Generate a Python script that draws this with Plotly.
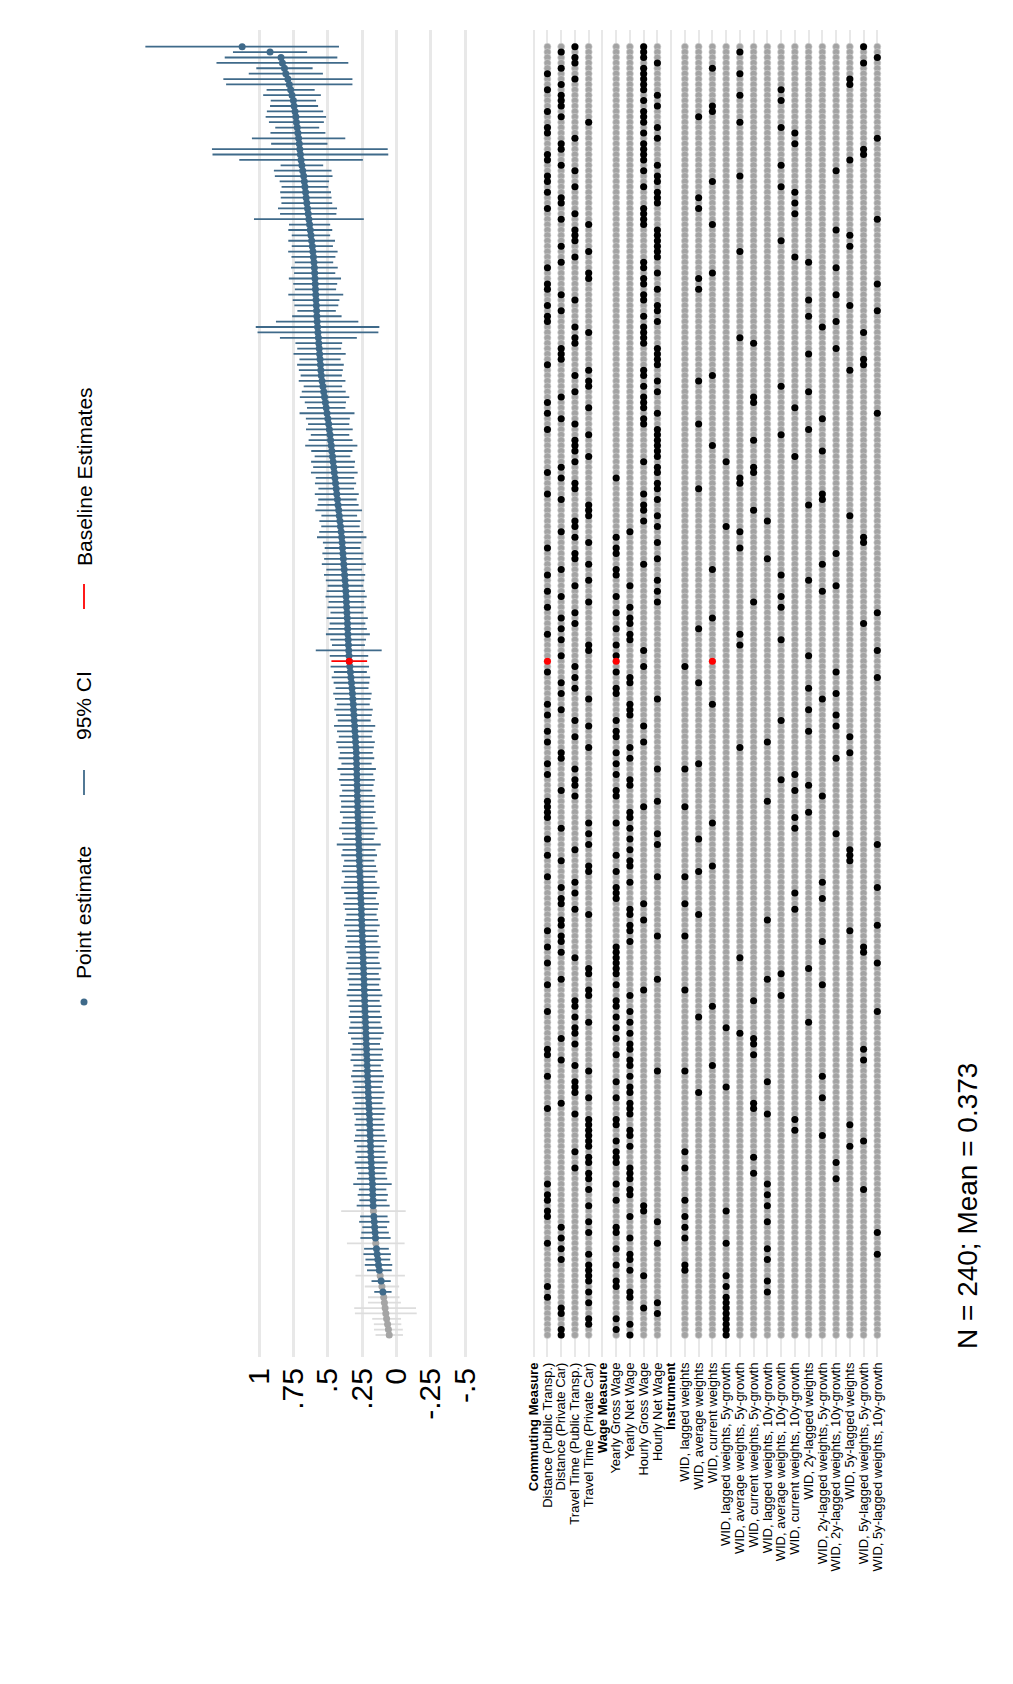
import plotly.graph_objects as go

N = 240
# specifications sorted by estimate, highest first (index 0 = top of chart)
estimates = [
    1.123, 0.920, 0.840, 0.830, 0.815, 0.805, 0.790, 0.780, 0.770, 0.760,
    0.750, 0.745, 0.738, 0.732, 0.728, 0.722, 0.717, 0.712, 0.707, 0.703,
    0.699, 0.694, 0.688, 0.682, 0.675, 0.670, 0.666, 0.661, 0.657, 0.652,
    0.647, 0.642, 0.637, 0.632, 0.627, 0.622, 0.617, 0.612, 0.608, 0.604,
    0.600, 0.597, 0.595, 0.593, 0.591, 0.589, 0.587, 0.585, 0.583, 0.581,
    0.579, 0.577, 0.574, 0.571, 0.568, 0.565, 0.562, 0.559, 0.556, 0.553,
    0.550, 0.547, 0.541, 0.535, 0.529, 0.523, 0.517, 0.511, 0.505, 0.499,
    0.493, 0.488, 0.483, 0.479, 0.474, 0.470, 0.465, 0.461, 0.456, 0.452,
    0.447, 0.443, 0.438, 0.434, 0.429, 0.425, 0.420, 0.416, 0.411, 0.407,
    0.402, 0.398, 0.395, 0.392, 0.389, 0.386, 0.383, 0.380, 0.377, 0.374,
    0.371, 0.368, 0.366, 0.364, 0.362, 0.360, 0.358, 0.356, 0.355, 0.353,
    0.351, 0.349, 0.347, 0.345, 0.343, 0.339, 0.335, 0.331, 0.327, 0.323,
    0.320, 0.317, 0.314, 0.312, 0.309, 0.307, 0.304, 0.302, 0.299, 0.297,
    0.294, 0.292, 0.291, 0.290, 0.289, 0.288, 0.287, 0.286, 0.285, 0.284,
    0.283, 0.282, 0.281, 0.280, 0.278, 0.277, 0.276, 0.275, 0.274, 0.272,
    0.271, 0.270, 0.268, 0.267, 0.265, 0.263, 0.262, 0.260, 0.259, 0.257,
    0.255, 0.254, 0.253, 0.251, 0.250, 0.248, 0.247, 0.245, 0.244, 0.242,
    0.241, 0.239, 0.238, 0.236, 0.235, 0.234, 0.232, 0.231, 0.229, 0.228,
    0.226, 0.225, 0.223, 0.222, 0.220, 0.219, 0.217, 0.216, 0.214, 0.213,
    0.211, 0.210, 0.208, 0.206, 0.205, 0.203, 0.201, 0.199, 0.197, 0.195,
    0.194, 0.192, 0.191, 0.189, 0.188, 0.187, 0.185, 0.183, 0.181, 0.179,
    0.177, 0.174, 0.173, 0.172, 0.170, 0.169, 0.167, 0.164, 0.161, 0.158,
    0.155, 0.152, 0.150, 0.145, 0.140, 0.135, 0.130, 0.124, 0.118, 0.111,
    0.105, 0.098, 0.092, 0.087, 0.082, 0.077, 0.071, 0.064, 0.058, 0.052,
]
# half width of the 95% CI, same order
ci_half = [
    0.705, 0.27, 0.41, 0.48, 0.205, 0.27, 0.47, 0.46, 0.175, 0.21,
    0.165, 0.175, 0.205, 0.22, 0.20, 0.16, 0.20, 0.34, 0.205, 0.64,
    0.64, 0.45, 0.155, 0.21, 0.21, 0.18, 0.17, 0.185, 0.185, 0.185,
    0.215, 0.205, 0.40, 0.15,
    0.16, 0.14, 0.17, 0.15, 0.18, 0.16, 0.14, 0.17, 0.15, 0.19, 0.16, 0.15, 0.20, 0.17, 0.16, 0.14, 0.18,
    0.30, 0.45, 0.44, 0.28, 0.17, 0.16, 0.19, 0.15, 0.17, 0.16,
    0.15, 0.17, 0.14, 0.16, 0.18, 0.15, 0.14, 0.20, 0.16, 0.15, 0.17, 0.14, 0.16, 0.19, 0.15, 0.13, 0.16, 0.15, 0.17, 0.14,
    0.15, 0.13, 0.16, 0.14, 0.15, 0.17, 0.13, 0.15, 0.14, 0.16, 0.18, 0.14, 0.13, 0.15, 0.14, 0.16, 0.13, 0.15, 0.14, 0.13,
    0.14, 0.15, 0.13, 0.14, 0.12, 0.15, 0.13, 0.14, 0.16, 0.13, 0.12, 0.24, 0.14, 0.13, 0.14, 0.12, 0.14, 0.13, 0.12, 0.14,
    0.13, 0.12, 0.14, 0.13, 0.12, 0.15, 0.13, 0.12, 0.14, 0.13, 0.12, 0.13, 0.11, 0.14, 0.12, 0.13, 0.12, 0.11, 0.13, 0.12,
    0.12, 0.13, 0.11, 0.12, 0.14, 0.12, 0.11, 0.16, 0.12, 0.13, 0.11, 0.12, 0.13, 0.11, 0.12, 0.14, 0.12, 0.11, 0.13, 0.12,
    0.11, 0.12, 0.13, 0.11, 0.12, 0.11, 0.13, 0.12, 0.11, 0.12, 0.13, 0.11, 0.12, 0.11, 0.12, 0.13, 0.11, 0.12, 0.11, 0.12,
    0.11, 0.12, 0.13, 0.11, 0.10, 0.12, 0.11, 0.12, 0.10, 0.11, 0.12, 0.11, 0.10, 0.12, 0.11, 0.10, 0.12, 0.11, 0.10, 0.11,
    0.10, 0.11, 0.12, 0.10, 0.11, 0.10, 0.12, 0.11, 0.10, 0.11, 0.14, 0.10, 0.11, 0.10, 0.12,
    0.235,
    0.10, 0.11, 0.09, 0.10, 0.11,
    0.21,
    0.09, 0.10, 0.09, 0.10, 0.09,
    0.18, 0.07, 0.125, 0.063, 0.115, 0.12, 0.225, 0.225,
    0.105, 0.10, 0.105, 0.10,
]
# chosen option per specification (1-based within each group), same order
commuting = [
    3,2,3,3,2,1,3,2,1,2, 2,2,1,2,4,1,1,3,2,2, 1,1,2,3,1,1,3,1,2,2,
    1,3,2,4,3,3,3,2,4,3, 2,1,4,4,1,1,2,3,1,2, 1,1,3,4,3,3,2,2,2,1,
    4,3,4,4,3,2,1,4,1,2, 3,1,4,3,3,3,4,3,2,1, 2,3,3,1,2,4,4,4,3,3,
    2,3,4,1,3,3,4,2,1,4, 3,1,2,4,1,3,2,3,2,1, 2,4,4,2,1,3,1,3,2,3,
    2,4,1,2,1,3,4,1,3,1, 4,2,2,1,3,1,3,3,2,3, 1,1,1,1,4,2,4,1,4,3,
    1,2,4,4,1,3,2,3,2,2, 3,4,2,2,1,2,2,1,2,3, 1,4,4,2,1,4,4,3,3,1,
    3,4,3,3,2,3,1,1,2,3, 4,1,3,3,3,4,2,1,3,4, 4,4,4,4,4,3,4,4,3,4,
    4,1,4,1,1,4,1,1,4,2, 4,2,1,2,4,2,4,4,4,4, 1,4,1,4,2,2,4,4,2,2,
]
wage = [
    3,3,3,4,3,3,3,3,3,4, 3,4,3,3,3,4,3,4,3,3, 3,3,4,3,4,4,3,4,4,4,
    3,3,3,3,4,4,4,4,4,4, 3,3,4,3,3,4,3,3,4,4, 3,4,3,3,3,3,4,4,4,4,
    3,3,4,3,4,3,3,3,4,3, 3,4,4,4,4,4,4,3,4,4, 1,4,4,3,4,3,3,4,3,4,
    2,1,4,1,1,4,3,1,1,4, 2,4,1,4,2,1,2,2,1,2, 2,1,3,1,1,3,1,2,2,1,
    1,4,2,2,2,1,3,1,1,3, 2,1,2,1,4,1,2,2,1,1, 4,3,2,2,1,2,4,2,4,2,
    1,2,2,1,4,2,1,1,1,3, 2,2,3,2,2,4,2,1,1,1, 1,1,1,4,1,3,2,1,1,2,
    1,2,1,2,1,2,2,1,2,2, 4,2,1,2,2,1,2,2,2,1, 1,2,2,1,2,1,1,1,2,2,
    2,1,2,2,1,3,3,2,4,1, 1,2,4,1,2,2,1,2,3,1, 1,2,2,4,3,4,1,2,1,2,
]
instrument = [
    14,5,15,14,3,5,13,13,8,5, 8,3,3,2,5,8,9,15,9,14, 14,13,8,12,5,3,8,9,2,9,
    2,9,15,3,12,13,8,13,5,9, 10,12,3,2,15,2,12,10,13,15, 10,12,11,14,5,6,12,10,14,14,
    13,3,2,8,10,6,6,9,15,11, 2,10,8,6,3,11,9,4,6,6, 5,5,2,11,11,10,6,13,7,4,
    5,14,14,5,12,7,11,3,8,10, 12,11,8,6,8,15,3,14,2,5, 8,5,15,10,3,1,12,15,2,10,
    12,11,3,10,12,8,12,10,13,7, 5,13,12,2,1,9,8,10,9,11, 7,1,10,9,3,9,12,2,15,13,
    13,13,3,2,1,11,15,9,11,1, 9,2,7,15,13,1,11,14,14,5, 15,10,8,7,11,1,8,6,3,15,
    2,10,4,5,6,6,14,6,14,3, 1,11,7,4,2,11,6,6,7,9, 13,9,11,14,13,1,6,12,1,6,
    12,7,14,7,1,7,4,1,7,1, 15,1,4,7,15,7,1,1,4,7, 4,7,4,4,4,4,4,4,4,4,
]
baseline_pos = 114  # position of the baseline specification in the sorted list

commuting_labels = ["Distance (Public Transp.)", "Distance (Private Car)",
                    "Travel Time (Public Transp.)", "Travel Time (Private Car)"]
wage_labels = ["Yearly Gross Wage", "Yearly Net Wage", "Hourly Gross Wage", "Hourly Net Wage"]
instrument_labels = [
    "WID, lagged weights", "WID, average weights", "WID, current weights",
    "WID, lagged weights, 5y-growth", "WID, average weights, 5y-growth",
    "WID, current weights, 5y-growth", "WID, lagged weights, 10y-growth",
    "WID, average weights, 10y-growth", "WID, current weights, 10y-growth",
    "WID, 2y-lagged weights", "WID, 2y-lagged weights, 5y-growth",
    "WID, 2y-lagged weights, 10y-growth", "WID, 5y-lagged weights",
    "WID, 5y-lagged weights, 5y-growth", "WID, 5y-lagged weights, 10y-growth",
]
coef_ticks = [1, 0.75, 0.5, 0.25, 0, -0.25, -0.5]
coef_ticktext = ["1", ".75", ".5", ".25", "0", "-.25", "-.5"]
note_text = "N = 240; Mean = 0.373"

for name, arr in [("estimates", estimates), ("ci_half", ci_half), ("commuting", commuting),
                  ("wage", wage), ("instrument", instrument)]:
    if len(arr) != N:
        raise ValueError(f"{name} has {len(arr)} entries")

BLUE = "#3f6a8a"
GREY_PT = "#a5a5a5"
GREY_CI = "#dddddd"
RED = "#ff0000"
FONT = "Liberation Sans, Arial, sans-serif"

rank = [N - i for i in range(N)]
lo = [e - h for e, h in zip(estimates, ci_half)]
hi = [e + h for e, h in zip(estimates, ci_half)]
signif = [l > 0 for l in lo]

groups = [("Commuting Measure", commuting_labels, commuting),
          ("Wage Measure", wage_labels, wage),
          ("Instrument", instrument_labels, instrument)]
row_text = []
group_offsets = []
pos = 0
for gname, labels, _ in groups:
    row_text.append(f"<b>{gname}</b>")
    group_offsets.append(pos)
    pos += 1 + len(labels)
    row_text.extend(labels)
n_rows = len(row_text)

fig = go.Figure()

def ci_trace(mask, color, width):
    xs, ys = [], []
    for i in range(N):
        if mask(i):
            xs += [lo[i], hi[i], None]
            ys += [rank[i], rank[i], None]
    return go.Scatter(x=xs, y=ys, mode="lines", line=dict(color=color, width=width),
                      hoverinfo="skip", xaxis="x", yaxis="y")

fig.add_trace(ci_trace(lambda i: not signif[i], GREY_CI, 1.8))
fig.add_trace(ci_trace(lambda i: signif[i] and i != baseline_pos, BLUE, 1.8))
fig.add_trace(ci_trace(lambda i: i == baseline_pos, RED, 1.8))

gi = [i for i in range(N) if not signif[i]]
bi = [i for i in range(N) if signif[i]]
fig.add_trace(go.Scatter(x=[estimates[i] for i in gi], y=[rank[i] for i in gi], mode="markers",
                         marker=dict(color=GREY_PT, size=7), xaxis="x", yaxis="y"))
fig.add_trace(go.Scatter(x=[estimates[i] for i in bi], y=[rank[i] for i in bi], mode="markers",
                         marker=dict(color=BLUE, size=7), xaxis="x", yaxis="y"))
fig.add_trace(go.Scatter(x=[estimates[baseline_pos]], y=[rank[baseline_pos]], mode="markers",
                         marker=dict(color=RED, size=7), xaxis="x", yaxis="y"))

gx, gy, kx, ky, rx, ry = [], [], [], [], [], []
for g, (gname, labels, choice) in enumerate(groups):
    off = group_offsets[g]
    for k in range(1, len(labels) + 1):
        row = off + k
        for i in range(N):
            gx.append(row); gy.append(rank[i])
            if choice[i] == k:
                if i == baseline_pos:
                    rx.append(row); ry.append(rank[i])
                else:
                    kx.append(row); ky.append(rank[i])

fig.add_trace(go.Scatter(x=gx, y=gy, mode="markers",
                         marker=dict(color="#a3a3a3", size=7, line=dict(color="#d4d4d4", width=0.6)),
                         xaxis="x2", yaxis="y", hoverinfo="skip"))
fig.add_trace(go.Scatter(x=kx, y=ky, mode="markers", marker=dict(color="black", size=7),
                         xaxis="x2", yaxis="y"))
fig.add_trace(go.Scatter(x=rx, y=ry, mode="markers", marker=dict(color=RED, size=7),
                         xaxis="x2", yaxis="y"))

# page geometry (the html page adds an 8px body margin)
PAGE_W, PAGE_H = 1013, 1684
OX, OY = 8, 8
W, H = PAGE_W - OX, PAGE_H - OY
TOP, BOTTOM = 30, 1357          # plot area in page pixels
def px(x):
    return (x - OX) / W
def py(y):
    return (BOTTOM - y) / (BOTTOM - TOP)

fig.update_layout(
    width=W, height=H,
    margin=dict(l=0, r=0, t=TOP - OY, b=PAGE_H - BOTTOM),
    plot_bgcolor="white", paper_bgcolor="white",
    showlegend=False,
    font=dict(family=FONT, color="black"),
    xaxis=dict(domain=[px(140), px(480)], range=[1.867, -0.609],
               tickvals=coef_ticks, ticktext=coef_ticktext, tickangle=-90,
               tickfont=dict(size=30, family=FONT, color="black"),
               showgrid=True, gridcolor="#e8e8e8", gridwidth=2.5,
               zeroline=False, showline=False, ticks="", ticklabelstandoff=4),
    xaxis2=dict(domain=[px(520), px(891)], range=[-0.997, 25.995], anchor="y",
                tickvals=list(range(n_rows)), ticktext=row_text, tickangle=-90,
                tickfont=dict(size=13, family=FONT, color="black"),
                showgrid=True, gridcolor="#e8e8e8", gridwidth=2,
                zeroline=False, showline=False, ticks="", ticklabelstandoff=2),
    yaxis=dict(range=[-3.08, 243.1], showgrid=False, showticklabels=False,
               zeroline=False, showline=False),
)

LX = 84
fig.add_shape(type="circle", xref="paper", yref="paper",
              x0=px(LX - 3.5), x1=px(LX + 3.5), y0=py(1002 + 3.5), y1=py(1002 - 3.5),
              fillcolor=BLUE, line=dict(width=0))
fig.add_shape(type="line", xref="paper", yref="paper",
              x0=px(LX), x1=px(LX), y0=py(795), y1=py(770), line=dict(color=BLUE, width=1.8))
fig.add_shape(type="line", xref="paper", yref="paper",
              x0=px(LX), x1=px(LX), y0=py(609), y1=py(584), line=dict(color=RED, width=1.8))
for txt, yc in [("Point estimate", 913), ("95% CI", 706), ("Baseline Estimates", 477)]:
    fig.add_annotation(text=txt, xref="paper", yref="paper", x=px(LX), y=py(yc),
                       textangle=-90, showarrow=False, font=dict(size=21, family=FONT, color="black"),
                       xanchor="center", yanchor="middle")

fig.add_annotation(text=note_text, xref="paper", yref="paper", x=px(967), y=py(1206),
                   textangle=-90, showarrow=False, font=dict(size=28, family=FONT, color="black"),
                   xanchor="center", yanchor="middle")

fig.write_html("out.html")
